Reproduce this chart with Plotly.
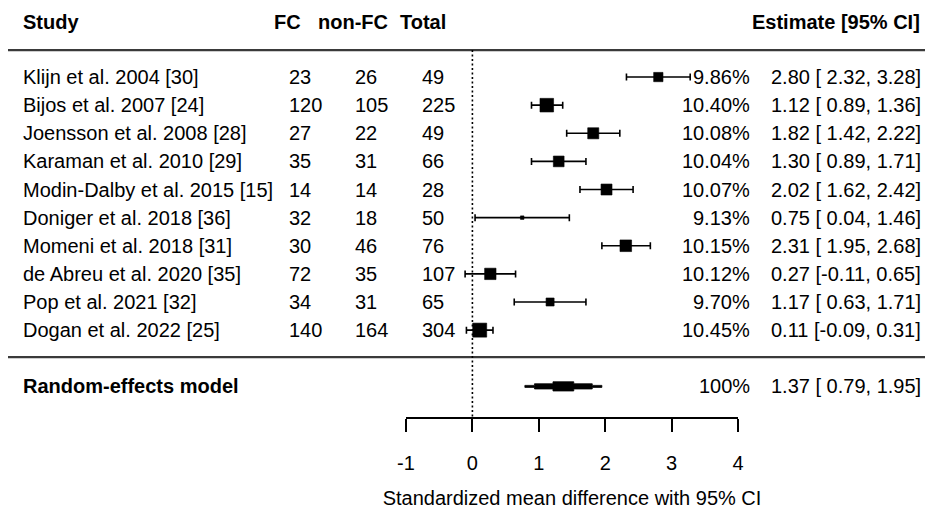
import plotly.graph_objects as go

# ---------------- data ----------------
studies = ["Klijn et al. 2004 [30]", "Bijos et al. 2007 [24]", "Joensson et al. 2008 [28]",
           "Karaman et al. 2010 [29]", "Modin-Dalby et al. 2015 [15]", "Doniger et al. 2018 [36]",
           "Momeni et al. 2018 [31]", "de Abreu et al. 2020 [35]", "Pop et al. 2021 [32]",
           "Dogan et al. 2022 [25]"]
fc = [23, 120, 27, 35, 14, 32, 30, 72, 34, 140]
nonfc = [26, 105, 22, 31, 14, 18, 46, 35, 31, 164]
total = [49, 225, 49, 66, 28, 50, 76, 107, 65, 304]
weights = [9.86, 10.40, 10.08, 10.04, 10.07, 9.13, 10.15, 10.12, 9.70, 10.45]
est = [2.80, 1.12, 1.82, 1.30, 2.02, 0.75, 2.31, 0.27, 1.17, 0.11]
lo = [2.32, 0.89, 1.42, 0.89, 1.62, 0.04, 1.95, -0.11, 0.63, -0.09]
hi = [3.28, 1.36, 2.22, 1.71, 2.42, 1.46, 2.68, 0.65, 1.71, 0.31]
re_label = "Random-effects model"
re_est, re_lo, re_hi = 1.37, 0.79, 1.95
re_weight = "100%"
x_ticks = [-1, 0, 1, 2, 3, 4]
headers = ["Study", "FC", "non-FC", "Total", "Estimate [95% CI]"]
x_title = "Standardized mean difference with 95% CI"

# ---------------- layout geometry ----------------
W_FIG, H_FIG = 925, 516
L, R, T, B = 406, 187, 0, 99
PW = W_FIG - L - R
FONT = "Liberation Sans, Arial, sans-serif"
FS = 20


def px(x):
    """pixel column -> paper x"""
    return (x - L) / PW


rows = list(range(1, len(studies) + 1))
re_row = len(studies) + 2
header_row = -0.97
top_line_row = 0.04
mid_line_row = 10.96
y_top, y_bot = -1.740, 13.089
ROW_PX = 28.1

# marker sizes scale with weights
wmin, wmax = min(weights), max(weights)
sizes = [3.5 + (w - wmin) / (wmax - wmin) * 10.5 for w in weights]

fig = go.Figure()

fig.add_trace(go.Scatter(
    x=est, y=rows, mode="markers",
    marker=dict(symbol="square", size=sizes, color="black", opacity=1,
                line=dict(width=0.6, color="black")),
    error_x=dict(type="data", symmetric=False,
                 array=[h - e for h, e in zip(hi, est)],
                 arrayminus=[e - l for e, l in zip(est, lo)],
                 color="black", thickness=1.6, width=3.5),
    showlegend=False, hoverinfo="skip", cliponaxis=False,
))

# summary shape (coarse diamond as in the reference rendering)
hw_l, hw_r = re_est - re_lo, re_hi - re_est
f_mid, f_ctr = 0.75, 0.27           # fraction of half-width for the steps
h_end, h_mid, h_ctr = 1.0 / ROW_PX, 2.6 / ROW_PX, 4.6 / ROW_PX
xs_top = [re_lo, re_est - f_mid * hw_l, re_est - f_mid * hw_l, re_est - f_ctr * hw_l,
          re_est - f_ctr * hw_l, re_est + f_ctr * hw_r, re_est + f_ctr * hw_r,
          re_est + f_mid * hw_r, re_est + f_mid * hw_r, re_hi]
hs_top = [h_end, h_end, h_mid, h_mid, h_ctr, h_ctr, h_mid, h_mid, h_end, h_end]
poly_x = xs_top + xs_top[::-1] + [xs_top[0]]
poly_y = [re_row - h for h in hs_top] + [re_row + h for h in hs_top[::-1]] + [re_row - hs_top[0]]
fig.add_trace(go.Scatter(
    x=poly_x, y=poly_y,
    mode="lines", fill="toself", fillcolor="black",
    line=dict(color="black", width=0.8),
    showlegend=False, hoverinfo="skip",
))

shapes = [
    dict(type="line", xref="paper", yref="y", x0=px(8), x1=px(925),
         y0=top_line_row, y1=top_line_row, line=dict(color="#3a3a3a", width=2.2)),
    dict(type="line", xref="paper", yref="y", x0=px(8), x1=px(925),
         y0=mid_line_row, y1=mid_line_row, line=dict(color="#3a3a3a", width=2.2)),
    dict(type="line", xref="x", yref="y", x0=0, x1=0, y0=top_line_row, y1=y_bot,
         line=dict(color="black", width=1.6, dash="2px,2.5px")),
]

ann = []


def txt(x, y, s, anchor, bold=False):
    ann.append(dict(x=px(x), y=y, xref="paper", yref="y", text=f"<b>{s}</b>" if bold else s,
                    showarrow=False, xanchor=anchor, yanchor="middle", borderpad=0,
                    font=dict(family=FONT, size=FS, color="black")))


# headers
txt(22, header_row, headers[0], "left", True)
txt(273, header_row, headers[1], "left", True)
txt(317, header_row, headers[2], "left", True)
txt(399, header_row, headers[3], "left", True)
txt(921, header_row, headers[4], "right", True)

for i, r in enumerate(rows):
    txt(22, r, studies[i], "left")
    txt(288, r, str(fc[i]), "left")
    txt(354, r, str(nonfc[i]), "left")
    txt(421, r, str(total[i]), "left")
    txt(751, r, f"{weights[i]:.2f}%", "right")
    txt(922, r, f"{est[i]:.2f} [{lo[i]:5.2f}, {hi[i]:.2f}]", "right")

txt(22, re_row, re_label, "left", True)
txt(751, re_row, re_weight, "right")
txt(922, re_row, f"{re_est:.2f} [{re_lo:5.2f}, {re_hi:.2f}]", "right")

fig.update_layout(
    width=W_FIG, height=H_FIG,
    margin=dict(l=L, r=R, t=T, b=B, autoexpand=False),
    paper_bgcolor="white", plot_bgcolor="white",
    shapes=shapes, annotations=ann,
    font=dict(family=FONT, size=FS, color="black"),
    xaxis=dict(range=[-1, 4], tickvals=x_ticks, ticktext=[str(t) for t in x_ticks],
               showgrid=False, zeroline=False, showline=True, linecolor="black", linewidth=1.6,
               ticks="outside", ticklen=13, tickwidth=1.6, tickcolor="black",
               ticklabelstandoff=14,
               tickfont=dict(family=FONT, size=FS, color="black"),
               title=dict(text=x_title, standoff=18, font=dict(family=FONT, size=FS, color="black")),
               fixedrange=True),
    yaxis=dict(range=[y_bot, y_top], visible=False, showgrid=False, zeroline=False, fixedrange=True),
)

fig.write_html("out.html", config={"displayModeBar": False},
               post_script="document.body.style.margin='0px';document.body.style.overflow='hidden';")
